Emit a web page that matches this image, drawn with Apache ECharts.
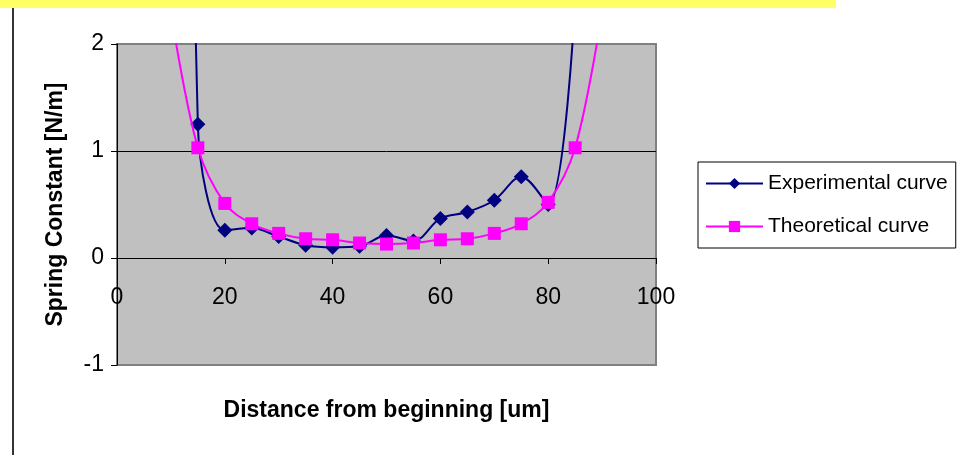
<!DOCTYPE html>
<html>
<head>
<meta charset="utf-8">
<script src="https://cdn.jsdelivr.net/npm/echarts@6/dist/echarts.min.js"></script>
<style>
  html, body { margin: 0; padding: 0; background: #fff; }
  #chart { width: 961px; height: 455px; }
</style>
</head>
<body>
<div id="chart"></div>
<script>
// Positions along the beam [um]
const expDistance = [10, 15, 20, 25, 30, 35, 40, 45, 50, 55, 60, 65, 70, 75, 80, 85];
const theoDistance = [10, 15, 20, 25, 30, 35, 40, 45, 50, 55, 60, 65, 70, 75, 80, 85, 90];

// Spring constant [N/m]; the end points run off the top of the plot
const experimental = [20, 1.25, 0.26, 0.28, 0.20, 0.12, 0.10, 0.11, 0.21, 0.16, 0.37, 0.43, 0.54, 0.76, 0.50, 2.4];
const theoretical = [2.3, 1.03, 0.51, 0.32, 0.23, 0.18, 0.17, 0.14, 0.13, 0.14, 0.17, 0.18, 0.23, 0.32, 0.52, 1.03, 2.3];

const seriesNames = ['Experimental curve', 'Theoretical curve'];
const xTitle = 'Distance from beginning [um]';
const yTitle = 'Spring Constant [N/m]';

const pairs = (xs, ys) => xs.map((x, i) => [x, ys[i]]);
const FONT = "'Liberation Sans', Arial, sans-serif";

// Plot box and value range of the y axis
const GRID = { left: 117, right: 305, top: 44, bottom: 90 };
const Y_MIN = -1, Y_MAX = 2;
const plotHeight = 455 - GRID.top - GRID.bottom;
// lift the x axis from the bottom edge up to y = 0
const xAxisOffset = -plotHeight * (0 - Y_MIN) / (Y_MAX - Y_MIN);

const chart = echarts.init(document.getElementById('chart'), null, { renderer: 'canvas' });

chart.setOption({
  animation: false,
  backgroundColor: '#ffffff',
  textStyle: { fontFamily: FONT, color: '#000' },
  graphic: [
    { type: 'rect', shape: { x: 0, y: 0, width: 836, height: 8 }, style: { fill: '#FFFF66' }, silent: true },
    { type: 'line', shape: { x1: 13, y1: 8, x2: 13, y2: 455 }, style: { stroke: '#333333', lineWidth: 2 }, silent: true }
  ],
  grid: {
    left: GRID.left, right: GRID.right, top: GRID.top, bottom: GRID.bottom,
    outerBoundsMode: 'none',
    containLabel: false,
    show: true,
    backgroundColor: '#C0C0C0',
    borderColor: '#808080',
    borderWidth: 2
  },
  legend: {
    orient: 'vertical',
    left: 698, top: 162,
    padding: [11, 8, 11, 7],
    backgroundColor: '#ffffff',
    borderColor: '#000000',
    borderWidth: 1,
    borderRadius: 0,
    itemWidth: 57,
    itemHeight: 14,
    itemGap: 22,
    textStyle: { fontFamily: FONT, fontSize: 21, color: '#000' },
    data: seriesNames
  },
  xAxis: {
    type: 'value',
    position: 'bottom',
    offset: xAxisOffset,
    min: 0, max: 100, interval: 20,
    name: xTitle,
    nameLocation: 'middle',
    nameGap: 141,
    nameTextStyle: { fontFamily: FONT, fontSize: 23, fontWeight: 'bold', color: '#000' },
    axisLine: { show: true, onZero: false, lineStyle: { color: '#000', width: 1 } },
    axisTick: { show: true, inside: false, length: 6, lineStyle: { color: '#000' } },
    axisLabel: { fontFamily: FONT, fontSize: 23, color: '#000', margin: 28 },
    splitLine: { show: false }
  },
  yAxis: {
    type: 'value',
    min: Y_MIN, max: Y_MAX, interval: 1,
    name: yTitle,
    nameLocation: 'middle',
    nameRotate: 90,
    nameGap: 50,
    nameTextStyle: { fontFamily: FONT, fontSize: 23, fontWeight: 'bold', color: '#000' },
    axisLine: { show: true, onZero: false, lineStyle: { color: '#000', width: 1 } },
    axisTick: { show: true, inside: false, length: 6, lineStyle: { color: '#000' } },
    axisLabel: { fontFamily: FONT, fontSize: 23, color: '#000', margin: 13 },
    splitLine: { show: true, showMinLine: false, showMaxLine: false, lineStyle: { color: '#000', width: 1 } }
  },
  series: [
    {
      name: seriesNames[0],
      type: 'line',
      data: pairs(expDistance, experimental),
      smooth: 0.35,
      clip: true,
      symbol: 'diamond',
      symbolSize: 15,
      showAllSymbol: true,
      lineStyle: { color: '#000080', width: 2 },
      itemStyle: { color: '#000080', borderWidth: 0 },
      z: 2
    },
    {
      name: seriesNames[1],
      type: 'line',
      data: pairs(theoDistance, theoretical),
      smooth: 0.35,
      clip: true,
      symbol: 'rect',
      symbolSize: 13,
      showAllSymbol: true,
      lineStyle: { color: '#FF00FF', width: 2 },
      itemStyle: { color: '#FF00FF', borderWidth: 0 },
      z: 3
    }
  ]
});
</script>
</body>
</html>
